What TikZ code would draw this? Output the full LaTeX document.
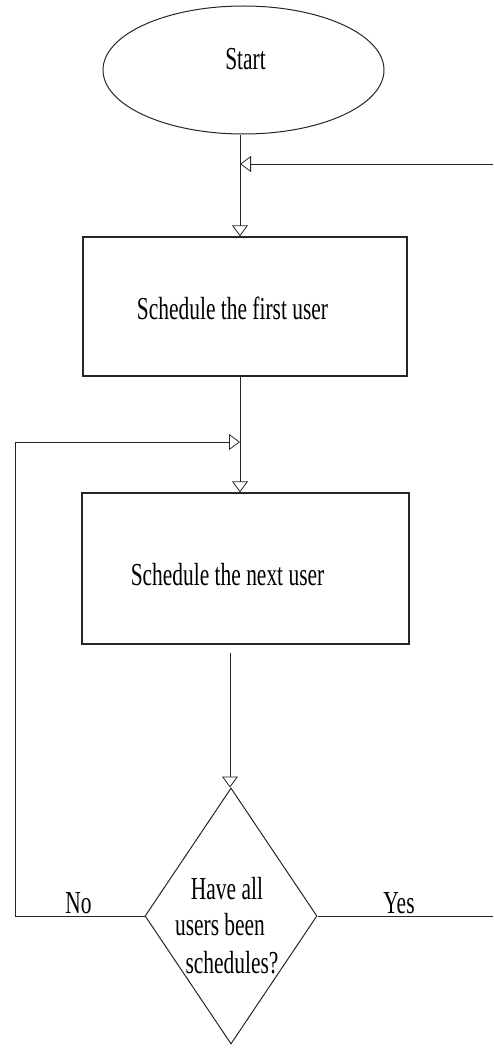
\documentclass[tikz,border=0pt]{standalone}
\usepackage{fontspec}
\setmainfont{Liberation Serif}[FakeStretch=0.67]
\usetikzlibrary{arrows.meta,shapes.geometric}
\tikzset{
  conn/.style={draw=black!85, line width=0.9pt},
  arr/.style={conn, -{Triangle[open, length=11pt, width=16pt, line width=0.8pt]}},
  boxst/.style={draw=black!85, line width=1.3pt, rectangle, inner sep=0pt},
  txt/.style={anchor=base, inner sep=0pt, font=\fontsize{32}{37}\selectfont},
}
\begin{document}
\begin{tikzpicture}[x=1pt, y=-1pt]
\useasboundingbox (0,0) rectangle (493,1054);
% shapes
\node[draw=black!85, line width=1pt, ellipse, minimum width=281pt, minimum height=128pt, inner sep=0pt] (start) at (243.5,70) {};
\node[boxst, minimum width=324pt, minimum height=139pt] (box1) at (245,306.5) {};
\node[boxst, minimum width=327pt, minimum height=151pt] (box2) at (245.5,568.5) {};
\node[draw=black!85, line width=1pt, diamond, minimum width=172pt, minimum height=256pt, inner sep=0pt] (dia) at (231,916) {};
% texts
\node[txt] (tstart) at (245.5,70) {Start};
\node[txt] (tbox1) at (232.5,319) {Schedule the first user};
\node[txt] (tbox2) at (227.5,585) {Schedule the next user};
\node[txt] (td1) at (227,899) {Have all};
\node[txt] (td2) at (220,935) {users been};
\node[txt] (td3) at (232,973) {schedules?};
\node[txt] (tno) at (78.5,913) {No};
\node[txt] (tyes) at (399,913) {Yes};
% junctions
\coordinate (j1) at (240,164);
\coordinate (rin) at (493,164);
\coordinate (j2) at (240,442);
\coordinate (nl) at (15,442);
\coordinate (b2out) at (230,653);
\coordinate (yr) at (493,918);
% connectors
\draw[arr] (start.south -| j1) -- (j1 |- box1.north);
\draw[arr] (rin) -- (j1);
\draw[arr] (j2 |- box1.south) -- (j2 |- box2.north);
\draw[arr] (dia.west) -- (nl |- dia.west) -- (nl) -- (j2);
\draw[arr] (b2out) -- (b2out |- dia.north);
\draw[conn] (dia.east) -- (yr |- dia.east);
\end{tikzpicture}
\end{document}
